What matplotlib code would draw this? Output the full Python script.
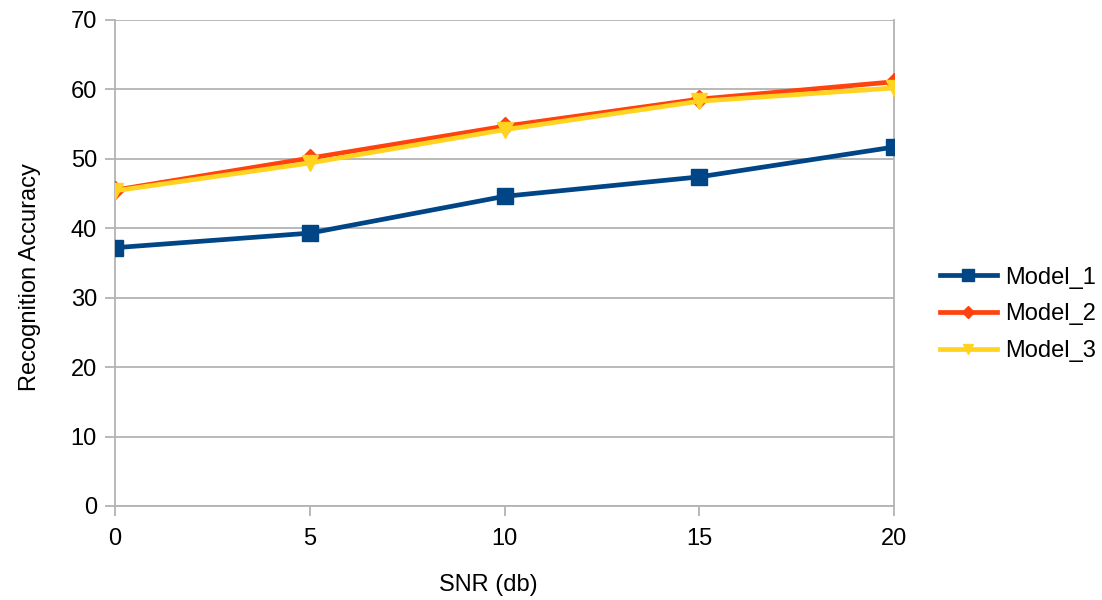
import matplotlib
matplotlib.use("Agg")
import matplotlib.pyplot as plt

snr = [0, 5, 10, 15, 20]
model_1 = [37.2, 39.3, 44.6, 47.4, 51.7]
model_2 = [45.5, 50.1, 54.7, 58.6, 61.1]
model_3 = [45.4, 49.4, 54.2, 58.3, 60.2]
y_ticks = [0, 10, 20, 30, 40, 50, 60, 70]
x_ticks = [0, 5, 10, 15, 20]

plt.rcParams['font.family'] = ['Liberation Sans', 'DejaVu Sans']

fig = plt.figure(figsize=(11.02, 6.0), dpi=100)
ax = fig.add_axes([0.1044, 0.1567, 0.7069, 0.81])

grid_c = '#b3b3b3'
ax.plot(snr, model_1, color='#004586', lw=3.4, marker='s', ms=12, label='Model_1', zorder=3)
ax.plot(snr, model_2, color='#ff420e', lw=3.4, marker='D', ms=9, label='Model_2', zorder=4)
ax.plot(snr, model_3, color='#ffd320', lw=3.4, marker='v', ms=11, label='Model_3', zorder=5)

ax.set_xlim(0, 20)
ax.set_ylim(0, 70)
ax.set_xticks(x_ticks)
ax.set_yticks(y_ticks)
ax.yaxis.grid(True, color=grid_c, lw=1.3)
ax.set_axisbelow(True)
for s in ['left', 'bottom', 'right']:
    ax.spines[s].set_color(grid_c)
    ax.spines[s].set_linewidth(1.3)
ax.spines['top'].set_visible(False)
ax.tick_params(axis='both', colors=grid_c, labelcolor='#000000', labelsize=17,
               length=7.5, width=1.3, direction='out')
ax.tick_params(axis='x', pad=8.5)
ax.tick_params(axis='y', pad=5.5)
for lab in ax.get_xticklabels() + ax.get_yticklabels():
    lab.set_clip_on(False)

ax.set_xlabel('SNR (db)', fontsize=17)
ax.set_ylabel('Recognition Accuracy', fontsize=17)
ax.xaxis.set_label_coords(0.479, -0.14)
ax.yaxis.set_label_coords(-0.095, 0.471)

leg = fig.legend(loc='center left', bbox_to_anchor=(0.853, 0.476), frameon=False,
                 fontsize=17, handlelength=2.4, handletextpad=0.35, labelspacing=0.63,
                 markerscale=0.7, borderpad=0, borderaxespad=0)

fig.savefig('out.png', dpi=100)
